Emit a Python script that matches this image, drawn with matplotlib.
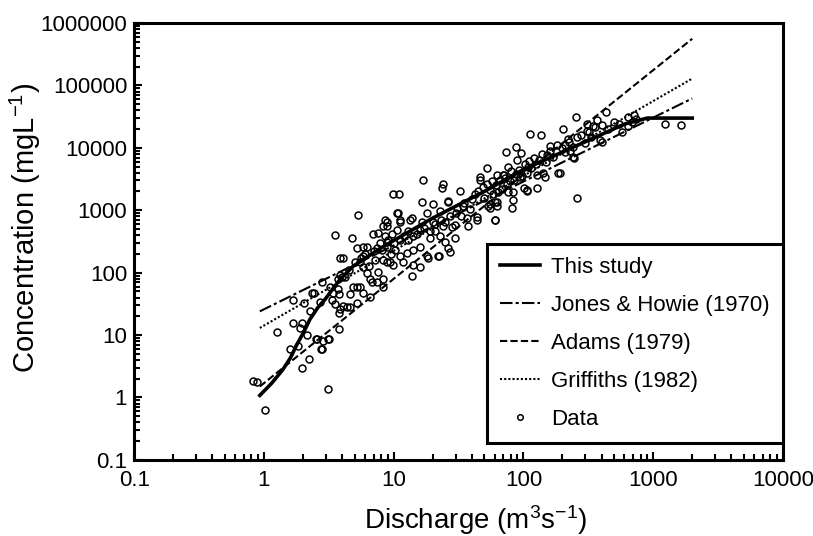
import matplotlib
matplotlib.use("Agg")
import matplotlib.pyplot as plt

plt.rcParams["font.family"] = ["Liberation Sans", "DejaVu Sans"]
plt.rcParams["mathtext.fontset"] = "custom"
plt.rcParams["mathtext.rm"] = "Liberation Sans"
plt.rcParams["mathtext.it"] = "Liberation Sans"

# Rating curves (discharge m3/s -> concentration mg/L)
study_q = [0.93, 1.15, 1.4, 1.6, 1.8, 2.05, 2.26, 2.6, 2.95, 3.4, 3.86, 4.86, 8, 20, 50,
           100, 134, 300, 600, 900, 2000]
study_c = [1.08, 1.7, 2.8, 4.3, 7.1, 11.7, 17.8, 27.5, 37, 55, 78, 126, 250, 750, 2000,
           4500, 5900, 12500, 24000, 30000, 30000]

line_q = [0.93, 2000]
jones_c = [24, 62000]
adams_c = [1.5, 560000]
griffiths_c = [13, 129000]

# Observed samples
data_q = [0.82, 0.88, 1.02, 1.26, 1.59, 1.67, 1.96, 1.9, 2.14, 1.96, 2.22, 2.56, 2.85, 3.12,
          2.80, 3.12, 3.79, 2.35, 2.45, 2.70, 2.80, 3.23, 1.67, 2.03, 2.26, 3.41, 3.53, 3.86,
          4.37, 4.61, 3.72, 3.86, 4.86, 5.2, 5.3, 3.53, 4.77, 3.86, 4.07, 1.83, 2.52, 3.17,
          2.75, 6.6, 8.3, 13.9, 18.4, 22.4, 27.2, 5.8, 6.2, 6.9, 7.6, 8.6, 9.9, 11.0, 10.6,
          16.5, 20.1, 23.6, 24.1, 32.5, 16.9, 26.3, 22.8, 18.1, 13.9, 11.2, 8.9, 34.3, 44,
          60.7, 82, 83.5, 107, 49, 63, 53.4,
          46.4, 52.4, 76.6, 90, 63, 70, 55.4, 83.5, 107, 128, 63, 55.4, 60.7, 37.6, 26.3,
          16.5, 20.1, 10.8, 8.9, 8.3, 13.4, 11.2, 12.9, 10.6, 9.7, 8.6, 8.9, 11.2, 14.1, 16,
          20.9, 24.1, 28.2, 29.8, 22.8, 25, 26.3, 22, 18.1, 16, 14.1, 12.7, 11.2, 10.2, 8.9,
          8.3, 9.4, 11.8, 14.1, 16, 19.1, 44, 36.9, 29.8, 38.8, 55.4, 60.7, 64, 76.6, 94, 107,
          46.4,
          256, 435, 370, 203, 405, 310, 715, 742, 643, 1240, 1650, 113, 137, 88, 73.7, 225,
          241, 210, 161, 152, 321, 358, 246, 390, 96, 109, 142, 128, 185, 147, 71.4, 79, 101,
          260, 577, 405, 241, 192, 310, 260, 210, 230, 346, 643, 690,
          7.4, 8.1, 7.2, 8.9, 9.9, 7.6, 6.2, 6.6, 6.8, 5.5, 7.4, 8.3, 5.8, 4.0, 4.22, 3.72,
          3.79, 4.61, 5.2, 3.35, 4.07, 3.79, 5.8, 5.5, 5.8, 5.2,
          40, 42, 45, 50, 52, 57, 58, 62, 66, 68, 72, 75, 80, 85, 88, 92, 98, 102, 110, 115,
          120, 125, 132, 140, 150, 160, 170, 180, 200, 220, 280, 300, 330, 450, 500, 550,
          10, 12, 13, 15, 17, 19, 21, 23, 25, 27, 30, 33, 35, 31,
          4.5, 5, 5.6, 6, 6.5, 7, 7.8, 9, 9.5]
data_c = [1.87, 1.80, 0.62, 11.4, 5.9, 15.9, 15.9, 13.2, 10.2, 3.0, 4.2, 8.5, 7.9, 8.8,
          5.9, 1.39, 12.3, 48, 48, 34, 70, 60, 37, 33, 24, 48, 31, 26,
          28, 28, 78, 93, 60, 33, 830, 395, 366, 175, 175, 6.8, 8.8, 8.8,
          5.9, 41, 58, 87, 175, 188, 218, 262, 262, 410, 440, 710, 1790, 1790, 920,
          1380, 1240, 2300, 2600, 2000, 3100, 1430, 960, 920, 740, 710, 550, 1150, 710,
          710, 1100, 1480, 2150, 2400, 1150, 1150,
          3470, 4700, 5000, 6500, 3700, 3700, 2150, 1930, 2000, 2300, 1380, 1100, 690, 550, 1380,
          640, 660, 920, 640, 550, 710, 660, 460, 490, 410, 380, 315, 340, 380, 490,
          460, 550, 530, 366, 380, 315, 250, 182, 182, 262, 235, 210, 182, 235, 262,
          162, 146, 146, 135, 125, 366, 770, 740, 590, 1030, 1240, 1380, 1930, 1930, 3350, 4000,
          3110,
          31800, 36900, 27500, 19900, 22900, 23700, 34000, 28500, 30700, 23700, 22900, 16500,
          15800, 10500, 8500, 12600, 10500, 8500, 10900, 7800, 17700, 21300, 7000, 13600, 8200,
          5000, 4000, 3700, 4000, 3350, 3700, 2900, 2300,
          1550, 17700, 12300, 7200, 4000, 18400, 15200, 11300, 8800, 22100, 22100, 25600,
          250, 235, 162, 146, 135, 104, 100, 78, 72, 60, 70, 78, 48, 84, 84, 54,
          45, 45, 58, 37, 29, 23, 188, 146, 125, 250,
          1500, 1800, 2000, 1600, 2600, 2900, 1800, 2500, 3000, 2200, 3300, 2600, 4200, 3000,
          3800, 4500, 3500, 5500, 6200, 4800, 7000, 5600, 6500, 8000, 6000, 9000, 7200, 11000,
          9800, 14000, 16000, 12000, 15000, 20000, 26000, 24000,
          300, 380, 330, 420, 520, 460, 600, 700, 640, 820, 900, 800, 1300, 1100,
          110, 150, 170, 200, 130, 220, 300, 330, 200]

x_ticks = [0.1, 1, 10, 100, 1000, 10000]
x_labels = ["0.1", "1", "10", "100", "1000", "10000"]
y_ticks = [0.1, 1, 10, 100, 1000, 10000, 100000, 1000000]
y_labels = ["0.1", "1", "10", "100", "1000", "10000", "100000", "1000000"]

fig = plt.figure(figsize=(8.13, 5.36), dpi=100)
ax = fig.add_axes([0.165, 0.142, 0.798, 0.815])

ax.plot(study_q, study_c, color="black", lw=2.6, label="This study")
ax.plot(line_q, jones_c, color="black", lw=1.5, ls=(0, (6, 1.5, 1.5, 1.5)),
        label="Jones & Howie (1970)")
ax.plot(line_q, adams_c, color="black", lw=1.5, ls=(0, (3.5, 1.5)), label="Adams (1979)")
ax.plot(line_q, griffiths_c, color="black", lw=1.5, ls=(0, (1, 1)),
        label="Griffiths (1982)")
ax.plot(data_q, data_c, ls="none", marker="o", ms=5, mfc="none", mec="black", mew=1.1,
        label="Data")

ax.set_xscale("log")
ax.set_yscale("log")
ax.set_xlim(0.1, 10000)
ax.set_ylim(0.1, 1000000)
ax.set_xticks(x_ticks, x_labels)
ax.set_yticks(y_ticks, y_labels)
ax.tick_params(which="both", direction="in", top=False, right=False, labelsize=16, width=1.5)
ax.tick_params(which="major", length=6)
ax.tick_params(axis="x", which="major", pad=7)
ax.tick_params(axis="y", which="major", pad=5)
ax.tick_params(which="minor", length=4)
for s in ax.spines.values():
    s.set_linewidth(2.2)

ax.set_xlabel(r"Discharge (m$^3$s$^{-1}$)", fontsize=20)
ax.set_ylabel(r"Concentration (mgL$^{-1}$)", fontsize=21)
ax.xaxis.set_label_coords(0.527, -0.1)
ax.yaxis.set_label_coords(-0.14, 0.531)

leg = ax.legend(loc="lower right", bbox_to_anchor=(1.0, 0.039), borderaxespad=0,
                fontsize=16, handlelength=1.8, labelspacing=0.76, fancybox=False,
                framealpha=1, edgecolor="black", borderpad=0.6, handletextpad=0.5)
leg.get_frame().set_linewidth(2.2)
for h in leg.legend_handles[-1:]:
    h.set_markersize(4)

fig.savefig("out.png", dpi=100)
